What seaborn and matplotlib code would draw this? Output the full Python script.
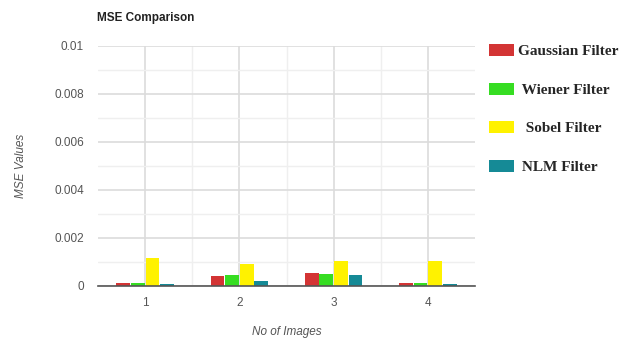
import matplotlib
matplotlib.use("Agg")
import matplotlib.pyplot as plt
from matplotlib.patches import Patch
from matplotlib.ticker import MultipleLocator
import seaborn as sns
import pandas as pd

# Image indices and filter names
images = ["1", "2", "3", "4"]
filters = ["Gaussian Filter", "Wiener Filter", "Sobel Filter", "NLM Filter"]

# MSE per image for each filter
gaussian = [0.00012, 0.00042, 0.00054, 0.00012]
wiener = [0.00012, 0.00046, 0.00050, 0.00012]
sobel = [0.00117, 0.00092, 0.00103, 0.00103]
nlm = [0.00010, 0.00020, 0.00046, 0.00010]

colors = ["#d33434", "#36dd22", "#fff200", "#158a96"]

rows = []
for name, vals in zip(filters, [gaussian, wiener, sobel, nlm]):
    for img, v in zip(images, vals):
        rows.append({"image": img, "filter": name, "mse": v})
df = pd.DataFrame(rows)

sns.set_theme(style="white")
plt.rcParams["font.family"] = ["Liberation Sans", "DejaVu Sans"]

fig = plt.figure(figsize=(6.22, 3.41), dpi=100)
ax = fig.add_axes([98 / 622, 1 - 286 / 341, 377 / 622, 240 / 341])

sns.barplot(data=df, x="image", y="mse", hue="filter", hue_order=filters,
            palette=colors, width=0.62, ax=ax, legend=False, saturation=1,
            linewidth=0, gap=0.06)

ax.set_ylim(0, 0.01)
ax.set_xlim(-0.5, 3.5)
ax.yaxis.set_major_locator(MultipleLocator(0.002))
ax.yaxis.set_minor_locator(MultipleLocator(0.001))
ax.set_yticks([0, 0.002, 0.004, 0.006, 0.008, 0.01])
ax.set_yticklabels(["0", "0.002", "0.004", "0.006", "0.008", "0.01"])
ax.set_xticks([0, 1, 2, 3])
ax.set_xticks([0.5, 1.5, 2.5], minor=True)

ax.grid(True, which="major", color="#dcdcdc", linewidth=1.2)
ax.grid(True, which="minor", color="#efefef", linewidth=1.0)
ax.set_axisbelow(True)

for side in ["top", "right", "left"]:
    ax.spines[side].set_visible(False)
ax.spines["bottom"].set_color("#555555")
ax.spines["bottom"].set_linewidth(1.2)

ax.tick_params(axis="both", which="both", length=0, labelsize=8.5,
               labelcolor="#555555")
ax.tick_params(axis="y", pad=10)
ax.tick_params(axis="x", pad=8)

ax.set_xlabel("No of Images", fontsize=8.5, style="italic", color="#555555",
              labelpad=12)
ax.set_ylabel("MSE Values", fontsize=8.5, style="italic", color="#555555",
              labelpad=20)

fig.text(97 / 622, 1 - 18 / 341, "MSE Comparison", fontsize=8.5,
         fontweight="bold", color="#222222", va="center", ha="left")

handles = [Patch(facecolor=c, edgecolor="none") for c in colors]
labels = ["Gaussian Filter", " Wiener Filter", "  Sobel Filter", " NLM Filter"]
fig.legend(handles, labels, loc="upper left",
           bbox_to_anchor=(489 / 622, 1 - 44 / 341),
           frameon=False,
           prop={"family": ["Liberation Serif"], "weight": "bold", "size": 11},
           handlelength=1.65, handleheight=0.85, handletextpad=0.25,
           labelspacing=1.58, borderaxespad=0, borderpad=0)

fig.savefig("out.png", dpi=100)
